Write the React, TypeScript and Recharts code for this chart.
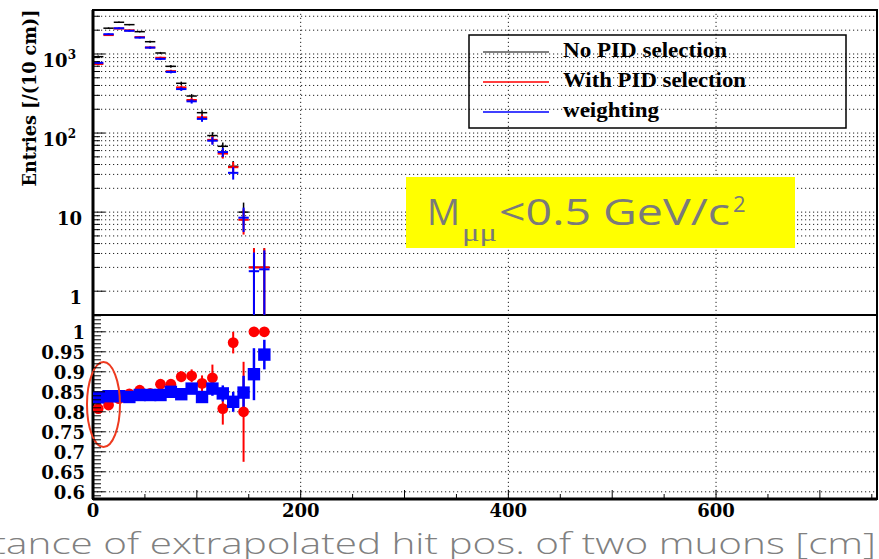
import React from "react";
import {
  ComposedChart, Scatter, XAxis, YAxis, ErrorBar,
  ReferenceLine, ReferenceArea, ReferenceDot,
} from "recharts";

// 10 cm bins, centres in cm
const binCenters = [5, 15, 25, 35, 45, 55, 65, 75, 85, 95, 105, 115, 125, 135, 145, 155, 165];

// entries per bin (top pad)
const noPid = [925, 2120, 2520, 2350, 1915, 1430, 1030, 698, 426, 294, 181, 93, 68, 38, 10, 2, 2];
const noPidErr = [30, 46, 50, 48, 44, 38, 32, 26, 21, 17, 13, 9.6, 8.2, 6.2, 3.2, 1.5, 1.5];
const withPid = [748, 1735, 2100, 1990, 1635, 1210, 895, 606, 378, 262, 158, 82, 55, 37, 8, 2, 2];
const withPidErr = [27, 42, 46, 45, 40, 35, 30, 25, 19, 16, 12.6, 9.1, 7.4, 6.1, 2.8, 1.5, 1.5];
const weighted = [773, 1780, 2115, 1965, 1612, 1204, 867, 593, 360, 252, 151, 80, 57.5, 31.4, 8.5, 1.79, 1.89];
const weightedErr = [28, 42, 46, 44, 40, 35, 29, 24, 19, 16, 12.3, 8.9, 7.6, 5.6, 2.9, 1.3, 1.39];

// ratios to "No PID selection" (bottom pad)
const ratioPid = [0.808, 0.817, 0.833, 0.845, 0.854, 0.846, 0.869, 0.869, 0.888, 0.89, 0.871, 0.885, 0.808, 0.973, 0.8, 1.0, 1.0];
const ratioPidErr = [0.008, 0.006, 0.006, 0.006, 0.007, 0.008, 0.009, 0.011, 0.014, 0.016, 0.02, 0.033, 0.04, 0.027, 0.125, 0, 0];
const ratioW = [0.836, 0.839, 0.839, 0.837, 0.842, 0.842, 0.842, 0.85, 0.844, 0.858, 0.837, 0.858, 0.846, 0.825, 0.848, 0.894, 0.943];
const ratioWErr = [0.004, 0.003, 0.003, 0.003, 0.004, 0.004, 0.005, 0.006, 0.008, 0.009, 0.012, 0.018, 0.02, 0.025, 0.042, 0.065, 0.037];

// axes
const X_DOMAIN = [0, 755];
const xTicks = [0, 50, 100, 150, 200, 250, 300, 350, 400, 450, 500, 550, 600, 650, 700, 750];
const xLabels = [0, 200, 400, 600];
const xGrid = [200, 400, 600];
const LOG_DOMAIN = [0.5, 3600];
const logTicks = [1, 2, 3, 4, 5, 6, 7, 8, 9, 10, 20, 30, 40, 50, 60, 70, 80, 90,
  100, 200, 300, 400, 500, 600, 700, 800, 900, 1000, 2000, 3000];
const logLabels = [1, 10, 100, 1000];
const RATIO_DOMAIN = [0.582, 1.042];
const ratioLabels = [0.6, 0.65, 0.7, 0.75, 0.8, 0.85, 0.9, 0.95, 1];
const ratioTicks = Array.from({ length: 46 }, (_, i) => +(0.59 + i * 0.01).toFixed(2));

const legendItems = [
  { label: "No PID selection", color: "#000000", len: 164 },
  { label: "With PID selection", color: "#ff0000", len: 183 },
  { label: "weighting", color: "#0000ff", len: 96 },
];

const SERIF = "'DejaVu Serif', 'Liberation Serif', serif";
const GOTHIC = "'Open Sans', 'DejaVu Sans', sans-serif";
const DOT = "1.2 2.8";

const rows = (vals: number[], errs: number[]) =>
  binCenters.map((x, i) => ({ x, y: vals[i], ye: errs[i], xe: 5 }));

const blank = () => <g />;

const LogTick = ({ x, y, payload }: any) => {
  const v = payload.value;
  const exp = logLabels.indexOf(v);
  return (
    <g>
      <line x1={x} x2={x + (exp >= 0 ? 12 : 7)} y1={y} y2={y} stroke="#000" />
      {exp === 0 || exp === 1 ? (
        <text x={x - 11} y={y + 13} textAnchor="end" fontFamily={SERIF} fontWeight="bold" fontSize={18}>{v}</text>
      ) : null}
      {exp >= 2 ? (
        <text x={x - 17} y={y + 13} textAnchor="end" fontFamily={SERIF} fontWeight="bold" fontSize={18}>
          10<tspan dy={-8} fontSize={12}>{exp}</tspan>
        </text>
      ) : null}
    </g>
  );
};

const RatioTick = ({ x, y, payload }: any) => {
  const v = payload.value;
  const major = ratioLabels.some(l => Math.abs(l - v) < 1e-6);
  return (
    <g>
      <line x1={x} x2={x + (major ? 12 : 8)} y1={y} y2={y} stroke="#000" />
      {major ? (
        <text x={x - 8} y={y + 7} textAnchor="end" fontFamily={SERIF} fontWeight="bold" fontSize={18}>{v}</text>
      ) : null}
    </g>
  );
};

const TopXTick = ({ x, y, payload }: any) => (
  <line x1={x} x2={x} y1={y} y2={y - (payload.value % 100 === 0 ? 8 : 5)} stroke="#000" />
);

const BottomXTick = ({ x, y, payload }: any) => {
  const v = payload.value;
  return (
    <g>
      <line x1={x} x2={x} y1={y} y2={y - (v % 100 === 0 ? 9 : 5)} stroke="#000" />
      {xLabels.includes(v) ? (
        <text x={x} y={y + 18} textAnchor="middle" fontFamily={SERIF} fontWeight="bold" fontSize={18}>{v}</text>
      ) : null}
    </g>
  );
};

export default function App() {
  return (
    <div style={{ position: "absolute", left: 0, top: 0, width: 879, height: 559, overflow: "hidden", background: "#fff" }}>
      <div style={{ position: "absolute", left: 0, top: 0 }}>
        <ComposedChart width={879} height={315} margin={{ top: 10, right: 2, bottom: 0, left: 0 }}>
          <XAxis type="number" dataKey="x" domain={X_DOMAIN} ticks={xTicks} interval={0} allowDataOverflow
            height={0} axisLine={false} tickLine={false} tickSize={0} tickMargin={0} tick={TopXTick} />
          <YAxis type="number" dataKey="y" scale="log" domain={LOG_DOMAIN} ticks={logTicks} interval={0} allowDataOverflow
            width={93} axisLine={false} tickLine={false} tickSize={0} tickMargin={0} tick={LogTick} />
          {logTicks.map(v => <ReferenceLine key={"h" + v} y={v} stroke="#222" strokeDasharray={DOT} />)}
          {xGrid.map(v => <ReferenceLine key={"v" + v} x={v} stroke="#222" strokeDasharray={DOT} />)}
          <Scatter data={rows(noPid, noPidErr)} shape={blank} isAnimationActive={false}>
            <ErrorBar dataKey="xe" direction="x" width={0} stroke="#000" strokeWidth={1.5} />
            <ErrorBar dataKey="ye" direction="y" width={0} stroke="#000" strokeWidth={1.5} />
          </Scatter>
          <Scatter data={rows(withPid, withPidErr)} shape={blank} isAnimationActive={false}>
            <ErrorBar dataKey="xe" direction="x" width={0} stroke="#ff0000" strokeWidth={2} />
            <ErrorBar dataKey="ye" direction="y" width={0} stroke="#ff0000" strokeWidth={2} />
          </Scatter>
          <Scatter data={rows(weighted, weightedErr)} shape={blank} isAnimationActive={false}>
            <ErrorBar dataKey="xe" direction="x" width={0} stroke="#0000ff" strokeWidth={2} />
            <ErrorBar dataKey="ye" direction="y" width={0} stroke="#0000ff" strokeWidth={2} />
          </Scatter>
          <ReferenceArea x1={X_DOMAIN[0]} x2={X_DOMAIN[1]} y1={LOG_DOMAIN[0]} y2={LOG_DOMAIN[1]}
            fill="none" fillOpacity={0} stroke="#000" strokeWidth={2} />
          <ReferenceLine x={0} stroke="#000" strokeWidth={3} />
        </ComposedChart>
      </div>

      <div style={{ position: "absolute", left: 0, top: 315 }}>
        <ComposedChart width={879} height={215} margin={{ top: 0, right: 2, bottom: 0, left: 0 }}>
          <XAxis type="number" dataKey="x" domain={X_DOMAIN} ticks={xTicks} interval={0} allowDataOverflow
            height={31} axisLine={false} tickLine={false} tickSize={0} tickMargin={0} tick={BottomXTick} />
          <YAxis type="number" dataKey="y" domain={RATIO_DOMAIN} ticks={ratioTicks} interval={0} allowDataOverflow
            width={93} axisLine={false} tickLine={false} tickSize={0} tickMargin={0} tick={RatioTick} />
          {ratioLabels.map(v => <ReferenceLine key={"h" + v} y={v} stroke="#222" strokeDasharray={DOT} />)}
          {xGrid.map(v => <ReferenceLine key={"v" + v} x={v} stroke="#222" strokeDasharray={DOT} />)}
          <Scatter data={rows(ratioPid, ratioPidErr)} isAnimationActive={false}
            shape={(p: any) => <circle cx={p.cx} cy={p.cy} r={5.4} fill="#ff0000" />}>
            <ErrorBar dataKey="ye" direction="y" width={0} stroke="#ff0000" strokeWidth={2} />
          </Scatter>
          <Scatter data={rows(ratioW, ratioWErr)} isAnimationActive={false}
            shape={(p: any) => <rect x={p.cx - 6.2} y={p.cy - 6.2} width={12.4} height={12.4} fill="#0000ff" />}>
            <ErrorBar dataKey="ye" direction="y" width={0} stroke="#0000ff" strokeWidth={2.5} />
          </Scatter>
          <ReferenceDot x={10.1} y={0.818} isFront
            shape={(p: any) => <ellipse cx={p.cx} cy={p.cy} rx={16.5} ry={42.5} fill="none" stroke="#ee3a1f" strokeWidth={2} />} />
          <ReferenceArea x1={X_DOMAIN[0]} x2={X_DOMAIN[1]} y1={RATIO_DOMAIN[0]} y2={RATIO_DOMAIN[1]}
            fill="none" fillOpacity={0} stroke="#000" strokeWidth={2} />
          <ReferenceLine x={0} stroke="#000" strokeWidth={3} />
          <ReferenceLine y={RATIO_DOMAIN[0]} stroke="#000" strokeWidth={3} />
        </ComposedChart>
      </div>

      <svg width={879} height={559} style={{ position: "absolute", left: 0, top: 0, pointerEvents: "none" }}>
        <text transform="translate(36,98) rotate(-90)" textAnchor="middle" fontFamily={SERIF} fontWeight="bold"
          fontSize={18} textLength={177} lengthAdjust="spacingAndGlyphs">Entries [/(10 cm)]</text>

        <rect x={469} y={35} width={377} height={93} fill="none" stroke="#000" strokeWidth={1.5} />
        {legendItems.map((it, i) => (
          <g key={it.label}>
            <line x1={483} x2={549} y1={52 + i * 30} y2={52 + i * 30} stroke={it.color} strokeWidth={i === 0 ? 1 : 1.5} />
            <text x={563} y={57 + i * 30} fontFamily="'Liberation Serif', serif" fontWeight="bold" fontSize={21}
              textLength={it.len} lengthAdjust="spacingAndGlyphs">{it.label}</text>
          </g>
        ))}

        <rect x={406} y={177} width={389} height={71} fill="#ffff00" />
        <g fill="#7a7a7a" fontFamily={GOTHIC}>
          <text x={427} y={225} fontSize={37} textLength={33} lengthAdjust="spacingAndGlyphs">M</text>
          <text x={462} y={241} fontSize={26} fontFamily="'Liberation Serif', serif"
            textLength={35} lengthAdjust="spacingAndGlyphs">μμ</text>
          <text x={499} y={225} fontSize={37} textLength={231} lengthAdjust="spacingAndGlyphs">&lt;0.5 GeV/c</text>
          <text x={733} y={212} fontSize={22}>2</text>
        </g>

        <text x={876} y={554} textAnchor="end" fill="#808080" fontFamily={GOTHIC} fontWeight={300} fontSize={30}
          textLength={940} lengthAdjust="spacingAndGlyphs">Distance of extrapolated hit pos. of two muons [cm]</text>
      </svg>
    </div>
  );
}
